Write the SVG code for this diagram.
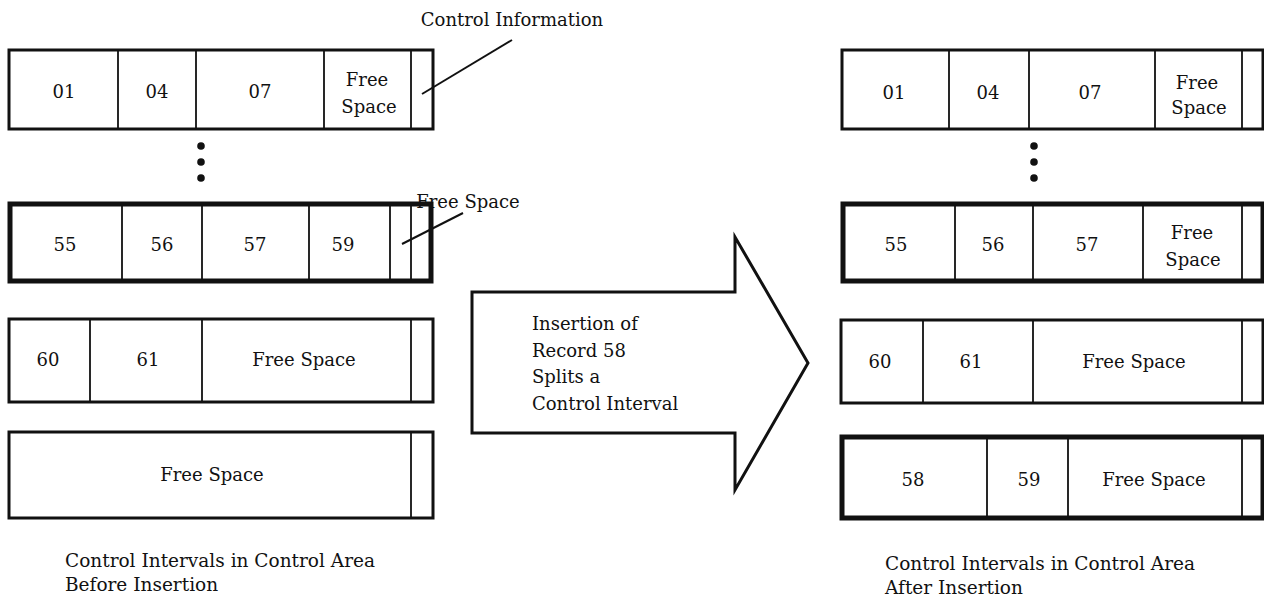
<svg xmlns="http://www.w3.org/2000/svg" width="1264" height="596" viewBox="0 0 1264 596">
<style>
text{font-family:"DejaVu Serif","Liberation Serif",serif;font-size:18px;fill:#111;text-anchor:middle}
.lbl{text-anchor:start}
.cap{font-size:18.5px}
.box{fill:#fff;stroke:#111;stroke-width:3}
.bold{stroke-width:5}
.div{stroke:#111;stroke-width:1.8;fill:none}
.dot{fill:#111}
.lead{stroke:#111;stroke-width:2;fill:none}
</style>
<rect width="1264" height="596" fill="#fff"/>

<!-- LEFT: before insertion -->
<g id="left-ci1">
<rect class="box" x="9" y="50" width="424" height="79"/>
<path class="div" d="M118 50V129M196 50V129M324 50V129M411 50V129"/>
<text x="64" y="98">01</text>
<text x="157" y="98">04</text>
<text x="260" y="98">07</text>
<text x="367" y="86">Free</text>
<text x="369" y="113">Space</text>
</g>
<g id="left-dots">
<circle class="dot" cx="201" cy="146" r="3.8"/>
<circle class="dot" cx="201" cy="162" r="3.8"/>
<circle class="dot" cx="201" cy="178" r="3.8"/>
</g>
<g id="left-ci2">
<rect class="box bold" x="10" y="204" width="421" height="77"/>
<path class="div" d="M122 204V281M202 204V281M309 204V281M390 204V281M411 204V281"/>
<text x="65" y="251">55</text>
<text x="162" y="251">56</text>
<text x="255" y="251">57</text>
<text x="343" y="251">59</text>
</g>
<g id="left-ci3">
<rect class="box" x="9" y="319" width="424" height="83"/>
<path class="div" d="M90 319V402M202 319V402M411 319V402"/>
<text x="48" y="366">60</text>
<text x="148" y="366">61</text>
<text x="304" y="366">Free Space</text>
</g>
<g id="left-ci4">
<rect class="box" x="9" y="432" width="424" height="86"/>
<path class="div" d="M411 432V518"/>
<text x="212" y="481">Free Space</text>
</g>
<g id="label-control-info">
<text x="512" y="26" font-size="16">Control Information</text>
</g>
<g id="label-free-space">
<text x="468" y="208" font-size="16.5">Free Space</text>
</g>
<g id="caption-before">
<text class="lbl cap" x="65" y="567">Control  Intervals in Control Area</text>
<text class="lbl cap" x="65" y="591">Before Insertion</text>
</g>

<!-- ARROW -->
<g id="split-arrow">
<polygon points="472,292 735,292 735,237 808,363 735,490 735,433 472,433" fill="#fff" stroke="#111" stroke-width="3" stroke-linejoin="miter"/>
<text class="lbl" x="532" y="330">Insertion of</text>
<text class="lbl" x="532" y="357">Record 58</text>
<text class="lbl" x="532" y="383">Splits a</text>
<text class="lbl" x="532" y="410">Control Interval</text>
</g>

<!-- RIGHT: after insertion -->
<g id="right-ci1">
<rect class="box" x="842" y="50" width="421" height="79"/>
<path class="div" d="M949 50V129M1029 50V129M1155 50V129M1242 50V129"/>
<text x="894" y="99">01</text>
<text x="988" y="99">04</text>
<text x="1090" y="99">07</text>
<text x="1197" y="89">Free</text>
<text x="1199" y="114">Space</text>
</g>
<g id="right-dots">
<circle class="dot" cx="1034" cy="146" r="3.8"/>
<circle class="dot" cx="1034" cy="162" r="3.8"/>
<circle class="dot" cx="1034" cy="178" r="3.8"/>
</g>
<g id="right-ci2">
<rect class="box bold" x="843" y="204" width="420" height="77"/>
<path class="div" d="M955 204V281M1033 204V281M1143 204V281M1242 204V281"/>
<text x="896" y="251">55</text>
<text x="993" y="251">56</text>
<text x="1087" y="251">57</text>
<text x="1192" y="239">Free</text>
<text x="1193" y="266">Space</text>
</g>
<g id="right-ci3">
<rect class="box" x="841" y="320" width="422" height="83"/>
<path class="div" d="M923 320V403M1033 320V403M1242 320V403"/>
<text x="880" y="368">60</text>
<text x="971" y="368">61</text>
<text x="1134" y="368">Free Space</text>
</g>
<g id="right-ci4">
<rect class="box bold" x="842" y="437" width="421" height="81"/>
<path class="div" d="M987 437V518M1068 437V518M1242 437V518"/>
<text x="913" y="486">58</text>
<text x="1029" y="486">59</text>
<text x="1154" y="486">Free Space</text>
</g>
<g id="caption-after">
<text class="lbl cap" x="885" y="570">Control Intervals in Control Area</text>
<text class="lbl cap" x="885" y="594">After Insertion</text>
</g>

<!-- connectors (leader lines) -->
<g id="connectors">
<line class="lead" x1="512" y1="40" x2="422" y2="94"/>
<line class="lead" x1="463" y1="213" x2="402" y2="244"/>
</g>
</svg>
